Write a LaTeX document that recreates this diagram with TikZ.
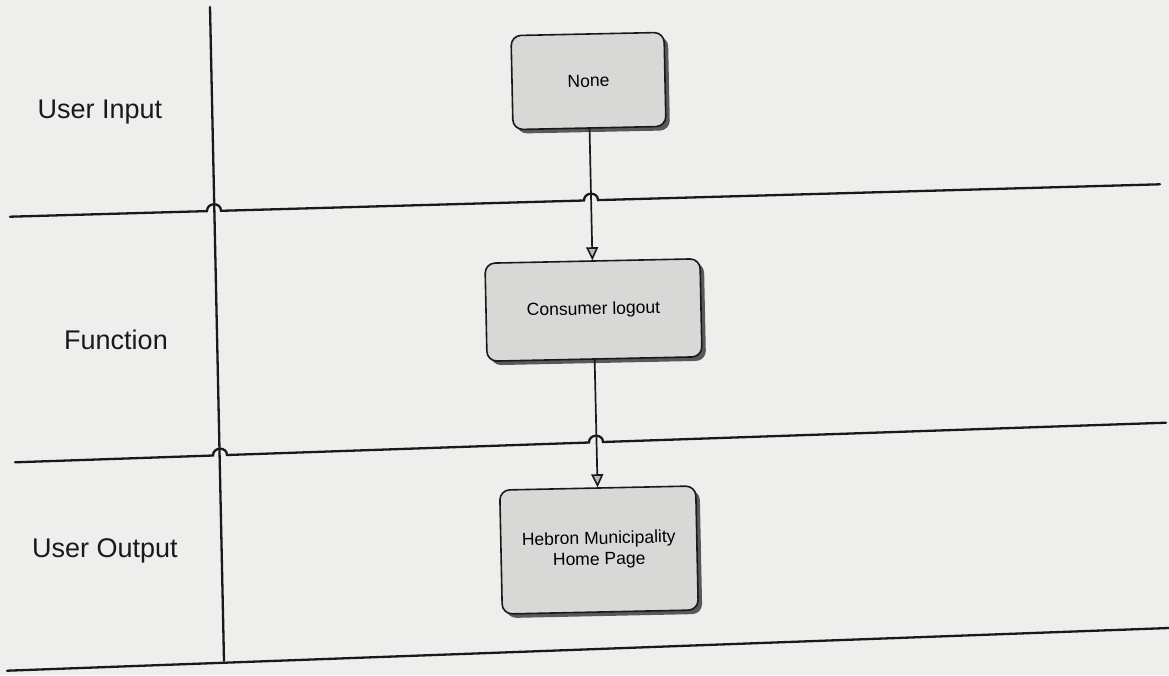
\documentclass[tikz,border=0pt]{standalone}
\usepackage{fontspec}
\setmainfont{Liberation Sans}
\usetikzlibrary{arrows.meta,shadows}
\definecolor{paper}{RGB}{238,238,236}
\definecolor{boxfill}{RGB}{216,216,214}
\definecolor{ink}{RGB}{25,25,25}
\tikzset{
  lane/.style={draw=ink, line width=2.3pt, line cap=round},
  procbox/.style={draw=ink, line width=1.6pt, fill=boxfill, rounded corners=10pt,
    rotate=1.2, align=center, font=\fontsize{17.5}{21}\selectfont,
    drop shadow={shadow xshift=4pt, shadow yshift=-4pt, fill=black!65, opacity=1}},
  lanelabel/.style={font=\fontsize{27}{30}\selectfont, text=ink},
  flow/.style={draw=ink, line width=1.7pt,
    -{Triangle[length=13pt, width=12pt, line width=1.6pt, fill=gray!55]}}
}
\begin{document}
\begin{tikzpicture}[x=1pt, y=-1pt]
  \fill[paper] (0,0) rectangle (1169,675);
  \useasboundingbox (0,0) rectangle (1169,675);

  % lane boundaries with hops
  \coordinate (t0) at (10,216.7);   \coordinate (t1) at (1160,184.3);
  \coordinate (m0) at (15,462.3);   \coordinate (m1) at (1166,422.7);
  \coordinate (b0) at (7,670.7);    \coordinate (b1) at (1169,628);
  \coordinate (vtop) at (210,7);    \coordinate (vbot) at (224,661);

  \draw[lane] (vtop) -- (vbot);

  \draw[lane] (t0) -- (207,211.1) .. controls (207,202) and (221,202) .. (221,210.8)
     -- (584,200.5) .. controls (584,191.5) and (598,191.5) .. (598,200.1) -- (t1);
  \draw[lane] (m0) -- (213,455.5) .. controls (213,446.5) and (227,446.5) .. (227,455.0)
     -- (589,442.5) .. controls (589,433.5) and (603,433.5) .. (603,442.0) -- (m1);
  \draw[lane] (b0) -- (b1);

  % lane labels
  \node[lanelabel] (lin) at (100,112) {User Input};
  \node[lanelabel] (lfn) at (116,340) {Function};
  \node[lanelabel] (lout) at (105,551) {User Output};

  % process boxes
  \node[procbox, minimum width=153pt, minimum height=94pt] (none) at (588.5,81) {None};
  \node[procbox, minimum width=215pt, minimum height=98pt] (logout) at (593.5,310) {Consumer logout};
  \node[procbox, minimum width=196pt, minimum height=124pt] (home) at (599,550) {Hebron Municipality\\Home Page};

  % flow
  \draw[flow] (none) -- (logout);
  \draw[flow] (logout) -- (home);
\end{tikzpicture}
\end{document}
